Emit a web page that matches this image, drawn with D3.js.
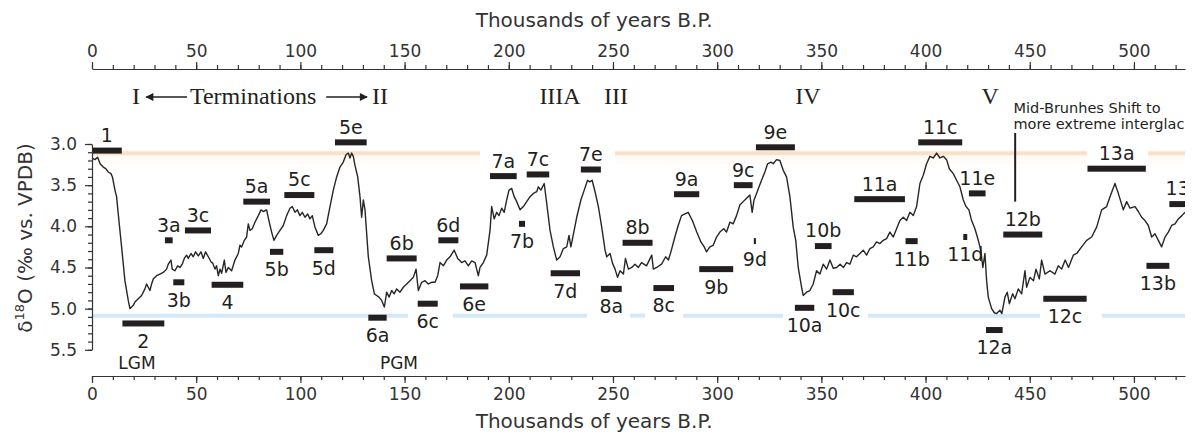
<!DOCTYPE html>
<html>
<head>
<meta charset="utf-8">
<script src="https://cdn.jsdelivr.net/npm/d3@7"></script>
<style>
  body { margin: 0; background: #fff; }
  svg { display: block; font-family: "DejaVu Sans", sans-serif; }
</style>
</head>
<body>
<svg></svg>
<script>
// benthic d18O stack (age in ka, value in per mil)
let ages = [0, 1.4, 2.7, 3.9, 5.4, 6.6, 7.8, 9.1, 9.8, 11.0, 11.8, 12.6, 14.2, 15.8, 17.4, 18.2, 19.0, 19.8, 20.6, 22.2,
    23.8, 25.4, 26.2, 27.0, 27.8, 28.6, 29.4, 31.0, 32.6, 34.2, 35.8, 36.6, 37.9, 38.5, 39.8, 41.1, 42.2, 43.3, 44.3, 45.4,
    46.2, 47.5, 48.6, 49.7, 51.0, 52.3, 53.4, 54.5, 55.8, 57.1, 58.0, 59.0, 59.8, 60.6, 61.4, 62.2, 63.5, 64.3, 65.4, 67.0,
    68.6, 70.2, 71.0, 71.8, 73.1, 74.2, 75.0, 75.8, 76.9, 78.2, 79.8, 81.1, 82.2, 83.8, 84.9, 86.2, 87.3, 88.6, 90.2, 91.8,
    93.4, 95.0, 96.1, 97.4, 98.5, 99.8, 100.9, 102.2, 103.5, 104.6, 105.7, 107.0, 108.6, 109.8, 111.0, 112.6, 114.2, 115.8, 117.4, 119.0,
    120.6, 121.9, 123.0, 123.8, 124.6, 125.4, 126.2, 127.5, 128.6, 129.4, 130.2, 131.0, 132.6, 134.2, 135.5, 136.6, 137.7, 139.0, 140.3, 141.4,
    142.6, 143.8, 145.0, 146.2, 147.8, 149.4, 151.0, 152.6, 154.2, 155.5, 156.6, 158.2, 159.8, 161.4, 163.0, 164.6, 165.9, 167.0, 168.6, 170.2,
    171.8, 173.8, 175.5, 177.4, 179.0, 180.6, 182.2, 183.8, 184.6, 185.4, 186.2, 187.8, 189.4, 191.0, 191.8, 193.0, 194.2, 195.3, 196.6, 197.8,
    199.0, 200.1, 201.4, 202.6, 203.8, 205.4, 207.0, 208.6, 210.2, 211.8, 213.4, 214.2, 215.4, 217.0, 218.2, 219.8, 221.4, 223.0, 224.6, 226.2,
    227.8, 228.9, 229.8, 230.9, 232.6, 234.6, 236.2, 237.8, 238.9, 240.0, 241.4, 243.0, 244.6, 246.2, 247.0, 248.6, 249.8, 251.0, 252.2, 253.4,
    255.0, 256.0, 257.4, 259.0, 260.6, 262.2, 263.7, 266.1, 268.6, 269.4, 271.0, 273.3, 275.3, 276.6, 277.8, 279.7, 281.3, 282.9, 284.5, 286.1,
    288.1, 290.2, 292.2, 293.8, 294.9, 296.5, 298.1, 299.7, 301.3, 303.2, 304.5, 306.1, 307.7, 309.3, 310.9, 312.5, 314.1, 315.7, 316.8, 317.7,
    318.9, 320.1, 321.3, 322.9, 324.2, 325.8, 326.9, 328.5, 330.1, 331.7, 333.3, 334.9, 336.5, 337.7, 338.9, 340.5, 341.3, 342.9, 344.5, 346.1,
    347.7, 349.3, 350.9, 352.5, 354.1, 355.7, 357.3, 359.0, 360.6, 362.1, 363.7, 365.3, 366.9, 368.5, 370.1, 371.7, 373.3, 374.9, 376.5, 378.1,
    379.7, 381.3, 382.9, 384.5, 386.1, 387.7, 389.3, 390.9, 392.5, 394.1, 395.7, 397.3, 398.9, 400.5, 402.1, 403.7, 405.3, 406.9, 408.5, 410.1,
    411.4, 413.3, 414.9, 416.5, 418.1, 419.4, 420.8, 422.1, 423.7, 425.3, 426.5, 427.5, 428.5, 429.3, 430.1, 431.7, 433.0, 434.1, 435.7, 436.6,
    438.1, 439.2, 440.2, 441.8, 442.9, 444.5, 446.1, 447.7, 448.5, 450.1, 451.8, 453.0, 454.6, 455.7, 457.3, 459.7, 462.1, 463.7, 465.3, 467.0,
    468.6, 470.9, 472.5, 474.9, 477.3, 479.7, 482.1, 484.5, 486.9, 488.5, 490.9, 492.5, 494.9, 496.5, 498.1, 500.5, 502.1, 503.7, 505.3, 506.9,
    508.5, 510.1, 511.7, 513.3, 514.9, 516.5, 518.1, 519.7, 521.3, 523.0, 524.5];
let d18O = [3.17, 3.19, 3.16, 3.24, 3.28, 3.30, 3.34, 3.36, 3.40, 3.56, 3.64, 3.85, 4.25, 4.66, 4.90, 5.00, 4.98, 4.96, 4.92, 4.88,
    4.84, 4.76, 4.70, 4.74, 4.78, 4.70, 4.64, 4.60, 4.58, 4.56, 4.52, 4.46, 4.41, 4.52, 4.54, 4.48, 4.50, 4.46, 4.39, 4.35,
    4.39, 4.33, 4.37, 4.31, 4.36, 4.31, 4.39, 4.31, 4.37, 4.43, 4.45, 4.52, 4.48, 4.60, 4.52, 4.57, 4.41, 4.56, 4.50, 4.54,
    4.41, 4.33, 4.23, 4.25, 4.17, 4.13, 3.97, 4.05, 4.03, 3.95, 3.87, 3.80, 3.82, 3.80, 3.93, 4.07, 4.17, 4.11, 4.05, 3.99,
    3.87, 3.78, 3.76, 3.83, 3.80, 3.87, 3.83, 3.89, 3.85, 3.91, 3.87, 4.01, 4.11, 4.09, 4.05, 3.97, 3.76, 3.56, 3.40, 3.28,
    3.22, 3.13, 3.11, 3.17, 3.11, 3.15, 3.26, 3.40, 3.64, 3.89, 3.68, 3.80, 4.37, 4.66, 4.82, 4.84, 4.86, 4.90, 4.98, 4.80,
    4.86, 4.78, 4.82, 4.76, 4.80, 4.74, 4.70, 4.66, 4.62, 4.52, 4.78, 4.68, 4.66, 4.70, 4.68, 4.68, 4.60, 4.44, 4.48, 4.41,
    4.37, 4.29, 4.39, 4.44, 4.42, 4.48, 4.42, 4.44, 4.52, 4.60, 4.50, 4.44, 4.35, 4.05, 3.76, 3.91, 3.83, 3.87, 3.78, 3.83,
    3.68, 3.56, 3.54, 3.64, 3.70, 3.80, 3.76, 3.70, 3.64, 3.60, 3.58, 3.52, 3.56, 3.48, 3.72, 4.05, 4.25, 4.41, 4.37, 4.27,
    4.25, 4.11, 4.25, 4.11, 3.89, 3.68, 3.56, 3.44, 3.46, 3.44, 3.58, 3.76, 4.01, 4.29, 4.37, 4.33, 4.45, 4.52, 4.62, 4.54,
    4.58, 4.39, 4.52, 4.50, 4.46, 4.50, 4.44, 4.48, 4.35, 4.52, 4.50, 4.46, 4.37, 4.41, 4.31, 4.13, 3.99, 3.87, 3.85, 3.83,
    3.93, 4.07, 4.19, 4.25, 4.31, 4.25, 4.23, 4.13, 4.07, 4.03, 4.07, 3.95, 3.97, 3.87, 3.74, 3.70, 3.66, 3.62, 3.83, 3.68,
    3.60, 3.52, 3.44, 3.34, 3.24, 3.22, 3.24, 3.19, 3.20, 3.32, 3.40, 3.64, 4.01, 4.17, 4.50, 4.74, 4.84, 4.80, 4.78, 4.70,
    4.54, 4.58, 4.46, 4.52, 4.41, 4.51, 4.50, 4.46, 4.50, 4.44, 4.46, 4.35, 4.37, 4.33, 4.29, 4.35, 4.27, 4.25, 4.19, 4.21,
    4.17, 4.15, 4.07, 4.13, 4.03, 3.93, 3.89, 3.93, 3.83, 3.87, 3.76, 3.48, 3.38, 3.24, 3.15, 3.17, 3.11, 3.17, 3.15, 3.19,
    3.30, 3.36, 3.44, 3.52, 3.68, 3.76, 3.80, 3.93, 4.03, 4.17, 4.29, 4.50, 4.33, 4.66, 4.86, 5.00, 5.05, 5.06, 5.02, 5.06,
    4.86, 4.80, 4.94, 4.82, 4.88, 4.76, 4.82, 4.54, 4.74, 4.62, 4.66, 4.52, 4.64, 4.41, 4.58, 4.54, 4.58, 4.48, 4.52, 4.41,
    4.50, 4.35, 4.33, 4.25, 4.17, 4.13, 4.01, 3.80, 3.76, 3.64, 3.48, 3.60, 3.80, 3.70, 3.78, 3.76, 3.82, 3.89, 3.93, 3.99,
    4.13, 4.09, 4.17, 4.25, 4.13, 4.07, 3.99, 3.97, 3.91, 3.87, 3.83];

// marine isotope (sub)stages: name, start and end age, level of the bar, label side
let stageNames = ['1', '2', '3a', '3b', '3c', '4', '5a', '5b', '5c', '5d', '5e', '6a', '6b', '6c', '6d', '6e',
    '7a', '7b', '7c', '7d', '7e', '8a', '8b', '8c', '9a', '9b', '9c', '9d', '9e', '10a', '10b', '10c',
    '11a', '11b', '11c', '11d', '11e', '12a', '12b', '12c', '13a', '13b', '13c'];
let stageStart = [0, 14.6, 35.0, 39.0, 44.6, 57.4, 72.6, 85.4, 92.3, 106.7, 116.6, 132.6, 141.4, 156.3, 166.2, 176.6,
    191.0, 204.9, 208.6, 220.1, 234.6, 244.2, 254.6, 269.4, 279.3, 291.4, 308.0, 317.6, 318.6, 337.3, 346.9, 355.4,
    365.8, 390.4, 396.5, 418.1, 420.8, 429.0, 437.3, 456.5, 477.7, 506.0, 517.0];
let stageEnd = [14.3, 34.7, 38.7, 44.3, 57.1, 72.6, 85.4, 91.8, 106.7, 115.8, 131.8, 141.4, 155.8, 165.9, 175.8, 190.2,
    203.8, 207.8, 219.4, 234.2, 244.2, 254.2, 269.0, 279.3, 291.4, 307.7, 317.0, 318.6, 337.3, 346.6, 354.9, 365.6,
    390.1, 396.2, 417.6, 420.0, 428.8, 437.0, 456.0, 477.3, 505.7, 517.0, 530.0];
let stageLevel = [3.08, 5.18, 4.17, 4.68, 4.05, 4.71, 3.70, 4.31, 3.62, 4.29, 2.98, 5.11, 4.39, 4.94, 4.17, 4.73,
    3.39, 3.97, 3.37, 4.57, 3.31, 4.76, 4.20, 4.75, 3.61, 4.52, 3.50, 4.18, 3.04, 4.99, 4.24, 4.80,
    3.67, 4.18, 2.98, 4.13, 3.60, 5.26, 4.10, 4.88, 3.30, 4.48, 3.73];
let stageSide = ['up', 'down', 'up', 'down', 'up', 'down', 'up', 'down', 'up', 'down', 'up', 'down', 'up', 'down', 'up', 'down',
    'up', 'down', 'up', 'down', 'up', 'down', 'up', 'down', 'up', 'down', 'up', 'down', 'up', 'down', 'up', 'down',
    'up', 'down', 'up', 'down', 'up', 'down', 'up', 'down', 'up', 'down', 'up'];

let terminationNames = ['I', 'II', 'IIIA', 'III', 'IV', 'V'];
let terminationAges = [21.1, 138.2, 224.6, 251.4, 343.6, 431.0];

// reference levels and the stretches where they are drawn
let interglacialLevel = 3.113;
let glacialLevel = 5.085;
let interglacialSpans = [[0, 186.2], [251.0, 477.4], [506.7, 524.5]];
let glacialSpans = [[0, 151.6], [173.2, 237.5], [258.2, 265.4], [283.6, 331.6], [372.4, 454.9], [484.6, 524.5]];

let xMajorTicks = [0, 50, 100, 150, 200, 250, 300, 350, 400, 450, 500];
let xMinorTicks = d3.range(0, 521, 10);
let yMajorTicks = [3.0, 3.5, 4.0, 4.5, 5.0, 5.5];
let yMinorTicks = d3.range(30, 56, 1).map(d => d / 10);

let width = 1200;
let height = 435;
let ink = '#231f20';

let svg = d3.select('svg').attr('width', width).attr('height', height);

let xScale = d3.scaleLinear().domain([0, 524.5]).range([92, 1185]);
let yScale = d3.scaleLinear().domain([3.0, 5.5]).range([144, 349.8]);

svg.append('defs').append('clipPath').attr('id', 'plot')
   .append('rect').attr('x', 92).attr('y', 0).attr('width', 1185 - 92).attr('height', height);

svg.append('defs').append('marker')
   .attr('id', 'head').attr('viewBox', '0 0 10 10').attr('refX', 9).attr('refY', 5)
   .attr('markerWidth', 11).attr('markerHeight', 8).attr('markerUnits', 'userSpaceOnUse')
   .attr('orient', 'auto')
   .append('path').attr('d', 'M0,0L10,5L0,10z').attr('fill', ink);

let plot = svg.append('g').attr('clip-path', 'url(#plot)');

// reference bands
plot.selectAll('.warm-glow').data(interglacialSpans).enter().append('rect')
    .attr('x', d => xScale(d[0])).attr('width', d => xScale(d[1]) - xScale(d[0]))
    .attr('y', yScale(interglacialLevel)).attr('height', yScale(3.24) - yScale(interglacialLevel))
    .attr('fill', '#fffbf8');
plot.selectAll('.warm').data(interglacialSpans).enter().append('line')
    .attr('x1', d => xScale(d[0])).attr('x2', d => xScale(d[1]))
    .attr('y1', yScale(interglacialLevel)).attr('y2', yScale(interglacialLevel))
    .attr('stroke', '#fbe0c6').attr('stroke-width', 4);
plot.selectAll('.cold').data(glacialSpans).enter().append('line')
    .attr('x1', d => xScale(d[0])).attr('x2', d => xScale(d[1]))
    .attr('y1', yScale(glacialLevel)).attr('y2', yScale(glacialLevel))
    .attr('stroke', '#d4e9f7').attr('stroke-width', 4);

// the record
let line = d3.line().x((d, i) => xScale(ages[i])).y(d => yScale(d));
plot.append('path').datum(d18O)
    .attr('d', line)
    .attr('fill', 'none').attr('stroke', '#262626').attr('stroke-width', 1.4)
    .attr('stroke-linejoin', 'round');

// stage bars + labels
let stages = stageNames.map((name, i) => ({
    name: name, start: stageStart[i], end: stageEnd[i], level: stageLevel[i], side: stageSide[i]
}));

plot.selectAll('.bar').data(stages).enter().append('rect')
    .attr('x', d => xScale(d.start))
    .attr('width', d => Math.max(2, xScale(d.end) - xScale(d.start)))
    .attr('y', d => yScale(d.level) - 3)
    .attr('height', 6)
    .attr('fill', ink);

plot.selectAll('.stage').data(stages).enter().append('text')
    .attr('x', d => xScale((d.start + d.end) / 2))
    .attr('y', d => d.side == 'up' ? yScale(d.level) - 8.6 : yScale(d.level) + 24.4)
    .attr('text-anchor', 'middle')
    .attr('font-size', 19)
    .attr('fill', ink)
    .text(d => d.name);

plot.append('text').attr('x', xScale(21.6)).attr('y', 369).attr('text-anchor', 'middle')
    .attr('font-size', 17).attr('fill', ink).text('LGM');
plot.append('text').attr('x', xScale(147.3)).attr('y', 369).attr('text-anchor', 'middle')
    .attr('font-size', 17).attr('fill', ink).text('PGM');

// mid-Brunhes note
plot.append('line')
    .attr('x1', xScale(443)).attr('x2', xScale(443))
    .attr('y1', 133).attr('y2', yScale(3.7))
    .attr('stroke', ink).attr('stroke-width', 2);
let note = plot.append('text').attr('font-size', 14.5).attr('fill', ink);
note.append('tspan').attr('x', xScale(442.2)).attr('y', 113).text('Mid-Brunhes Shift to');
note.append('tspan').attr('x', xScale(442.2)).attr('y', 129).text('more extreme interglacials');

// terminations
svg.selectAll('.term').data(terminationNames).enter().append('text')
   .attr('x', (d, i) => xScale(terminationAges[i]))
   .attr('y', 104)
   .attr('text-anchor', 'middle')
   .attr('font-family', '"Liberation Serif", serif')
   .attr('font-size', 24)
   .attr('fill', ink)
   .text(d => d);
svg.append('text').attr('x', xScale(77.3)).attr('y', 104).attr('text-anchor', 'middle')
   .attr('font-family', '"Liberation Serif", serif').attr('font-size', 24).attr('fill', ink)
   .text('Terminations');
svg.append('line')
   .attr('x1', xScale(45.6)).attr('x2', xScale(26.0)).attr('y1', 97).attr('y2', 97)
   .attr('stroke', ink).attr('stroke-width', 1.6).attr('marker-end', 'url(#head)');
svg.append('line')
   .attr('x1', xScale(112.4)).attr('x2', xScale(132.0)).attr('y1', 97).attr('y2', 97)
   .attr('stroke', ink).attr('stroke-width', 1.6).attr('marker-end', 'url(#head)');

// axes
let styleAxis = (g) => {
    g.selectAll('path, line').attr('stroke', '#333').attr('stroke-width', 1.2);
    g.selectAll('text').attr('font-family', '"DejaVu Sans", sans-serif').attr('font-size', 17).attr('fill', '#333');
}

let xBottom = svg.append('g').attr('transform', 'translate(0,376)');
xBottom.append('g').call(d3.axisBottom(xScale).tickValues(xMinorTicks).tickSize(4).tickFormat('')).select('.domain').remove();
xBottom.append('g').call(d3.axisBottom(xScale).tickValues(xMajorTicks).tickSize(7).tickSizeOuter(0).tickPadding(5));
styleAxis(xBottom);

let xTop = svg.append('g').attr('transform', 'translate(0,69)');
xTop.append('g').call(d3.axisTop(xScale).tickValues(xMinorTicks).tickSize(4).tickFormat('')).select('.domain').remove();
xTop.append('g').call(d3.axisTop(xScale).tickValues(xMajorTicks).tickSize(7).tickSizeOuter(0).tickPadding(5));
styleAxis(xTop);

let yLeft = svg.append('g').attr('transform', 'translate(92,0)');
yLeft.append('g').call(d3.axisLeft(yScale).tickValues(yMinorTicks).tickSize(4).tickFormat('')).select('.domain').remove();
yLeft.append('g').call(d3.axisLeft(yScale).tickValues(yMajorTicks).tickSize(7).tickSizeOuter(0).tickPadding(8).tickFormat(d3.format('.1f')));
styleAxis(yLeft);

// axis titles
svg.append('text').attr('x', xScale(241)).attr('y', 27).attr('text-anchor', 'middle')
   .attr('font-size', 20).attr('fill', '#333').text('Thousands of years B.P.');
svg.append('text').attr('x', xScale(241)).attr('y', 428).attr('text-anchor', 'middle')
   .attr('font-size', 20).attr('fill', '#333').text('Thousands of years B.P.');

let yTitle = svg.append('text')
   .attr('transform', 'translate(32,238) rotate(-90)')
   .attr('text-anchor', 'middle')
   .attr('font-size', 20).attr('fill', '#333');
yTitle.append('tspan').text('δ');
yTitle.append('tspan').attr('font-size', 13).attr('dy', -8).text('18');
yTitle.append('tspan').attr('dy', 8).text('O (‰ vs. VPDB)');
</script>
</body>
</html>
